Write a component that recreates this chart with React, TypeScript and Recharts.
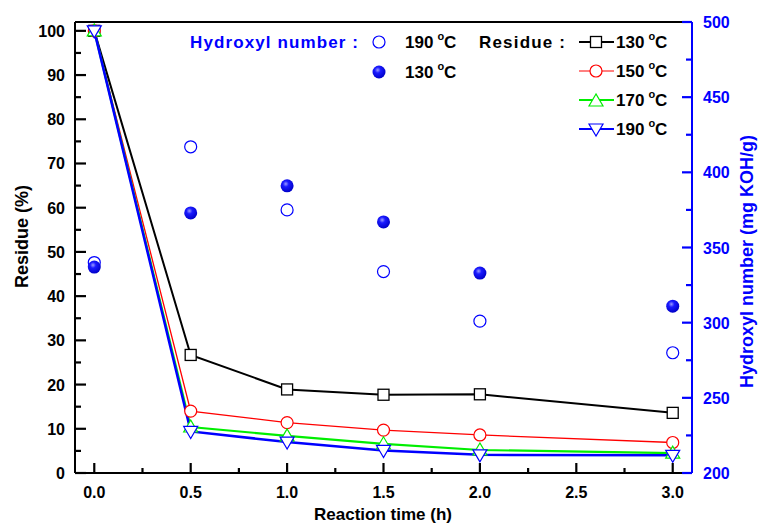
import {
  ComposedChart,
  Line,
  XAxis,
  YAxis,
  ReferenceLine,
  Legend,
  Label,
} from 'recharts';

const TIME = [0, 0.5, 1.0, 1.5, 2.0, 3.0];

const RES_130 = [100, 26.7, 18.9, 17.7, 17.8, 13.6];
const RES_150 = [100, 14.0, 11.4, 9.7, 8.6, 6.9];
const RES_170 = [100, 10.4, 8.4, 6.6, 5.2, 4.5];
const RES_190 = [100, 9.4, 7.0, 5.1, 4.1, 4.0];

const HYD_190 = [340, 417, 375, 334, 301, 280];
const HYD_130 = [337, 373, 391, 367, 333, 311];

const X_TICKS = [0, 0.25, 0.5, 0.75, 1, 1.25, 1.5, 1.75, 2, 2.25, 2.5, 2.75, 3];
const L_TICKS = [0, 5, 10, 15, 20, 25, 30, 35, 40, 45, 50, 55, 60, 65, 70, 75, 80, 85, 90, 95, 100];
const R_TICKS = [200, 225, 250, 275, 300, 325, 350, 375, 400, 425, 450, 475, 500];

const FONT = '"Liberation Sans", Arial, sans-serif';
const BLUE = '#0000ff';

const data = TIME.map((t, i) => ({
  t,
  r130: RES_130[i],
  r150: RES_150[i],
  r170: RES_170[i],
  r190: RES_190[i],
  h190: HYD_190[i],
  h130: HYD_130[i],
}));

// marker shapes
const square = (cx: number, cy: number, key?: any) => (
  <rect key={key} x={cx - 5.5} y={cy - 5.5} width={11} height={11} fill="#fff" stroke="#000" strokeWidth={1.3} />
);
const circle = (cx: number, cy: number, color: string, key?: any) => (
  <circle key={key} cx={cx} cy={cy} r={6} fill="#fff" stroke={color} strokeWidth={1.2} />
);
const triUp = (cx: number, cy: number, key?: any) => (
  <polygon key={key} points={`${cx},${cy - 7} ${cx - 7},${cy + 5} ${cx + 7},${cy + 5}`} fill="#fff" stroke="#00ee00" strokeWidth={1.2} />
);
const triDown = (cx: number, cy: number, key?: any) => (
  <polygon key={key} points={`${cx},${cy + 7} ${cx - 7},${cy - 5} ${cx + 7},${cy - 5}`} fill="#fff" stroke={BLUE} strokeWidth={1.2} />
);
const ball = (cx: number, cy: number, key?: any) => (
  <g key={key}>
    <defs>
      <radialGradient id="ballGrad" cx="40%" cy="35%" r="65%">
        <stop offset="0%" stopColor="#9a9aff" />
        <stop offset="35%" stopColor="#1a1aff" />
        <stop offset="100%" stopColor="#0000c8" />
      </radialGradient>
    </defs>
    <circle cx={cx} cy={cy} r={6.5} fill="url(#ballGrad)" />
  </g>
);

// inward ticks, long for labelled values
const XTick = (props: any) => {
  const { x, y, payload } = props;
  const v = payload.value;
  const major = Math.abs(v * 2 - Math.round(v * 2)) < 1e-6;
  return (
    <g>
      <line x1={x} x2={x} y1={y} y2={y - (major ? 10 : 5)} stroke="#000" strokeWidth={2.2} />
      {major && (
        <text x={x} y={y + 25} textAnchor="middle" fontFamily={FONT} fontWeight="bold" fontSize={16} fill="#000">
          {v.toFixed(1)}
        </text>
      )}
    </g>
  );
};

const LTick = (props: any) => {
  const { x, y, payload } = props;
  const v = payload.value;
  const major = v % 10 === 0;
  return (
    <g>
      <line x1={x} x2={x + (major ? 11 : 6)} y1={y} y2={y} stroke="#000" strokeWidth={2.2} />
      {major && (
        <text x={x - 10} y={y + 6} textAnchor="end" fontFamily={FONT} fontWeight="bold" fontSize={16} fill="#000">
          {v}
        </text>
      )}
    </g>
  );
};

const RTick = (props: any) => {
  const { x, y, payload } = props;
  const v = payload.value;
  const major = v % 50 === 0;
  return (
    <g>
      <line x1={x} x2={x - (major ? 10 : 6)} y1={y} y2={y} stroke={BLUE} strokeWidth={2.2} />
      {major && (
        <text x={x + 11} y={y + 6} textAnchor="start" fontFamily={FONT} fontWeight="bold" fontSize={16} fill={BLUE}>
          {v}
        </text>
      )}
    </g>
  );
};

const Deg = ({ x, y, label, color }: { x: number; y: number; label: string; color: string }) => (
  <text x={x} y={y} fontFamily={FONT} fontWeight="bold" fontSize={17} fill={color}>
    {label}
    <tspan dx={4} dy={-8} fontSize={11}>o</tspan>
    <tspan dy={8}>C</tspan>
  </text>
);

const legendRows = [
  { label: '130', y: 42, color: '#000', shape: (cx: number, cy: number) => square(cx, cy), w: 1.8 },
  { label: '150', y: 71, color: '#ff0000', shape: (cx: number, cy: number) => circle(cx, cy, '#ff0000'), w: 1.2 },
  { label: '170', y: 100, color: '#00ee00', shape: (cx: number, cy: number) => triUp(cx, cy + 1), w: 2 },
  { label: '190', y: 129, color: BLUE, shape: (cx: number, cy: number) => triDown(cx, cy), w: 2 },
];

const LegendBox = () => (
  <svg width={758} height={150} style={{ display: 'block' }}>
    <text x={190} y={48} fontFamily={FONT} fontWeight="bold" fontSize={17} fill={BLUE} textLength={168}>
      Hydroxyl number :
    </text>
    {circle(379, 42, BLUE)}
    <Deg x={405} y={48} label="190" color="#000" />
    {ball(379, 72)}
    <Deg x={405} y={78} label="130" color="#000" />
    <text x={479} y={48} fontFamily={FONT} fontWeight="bold" fontSize={17} fill="#000" textLength={86}>
      Residue :
    </text>
    {legendRows.map((r) => (
      <g key={r.label}>
        <line x1={579} x2={614} y1={r.y} y2={r.y} stroke={r.color} strokeWidth={r.w} />
        {r.shape(596, r.y)}
        <Deg x={616} y={r.y + 6} label={r.label} color="#000" />
      </g>
    ))}
  </svg>
);

export default function App() {
  return (
    <div style={{ position: 'absolute', left: 0, top: 0, width: 758, height: 525, background: '#fff' }}>
      <ComposedChart width={758} height={525} data={data} margin={{ top: 22, right: 0, bottom: 0, left: 0 }}>
        <XAxis
          dataKey="t"
          type="number"
          domain={[-0.1, 3.1]}
          ticks={X_TICKS}
          interval={0}
          tickSize={0}
          tickMargin={0}
          tick={<XTick />}
          height={52}
          axisLine={{ stroke: '#000', strokeWidth: 2 }}
          allowDataOverflow
        >
          <Label
            content={({ viewBox }: any) => (
              <text x={383} y={viewBox.y + 47} textAnchor="middle" fontFamily={FONT} fontWeight="bold" fontSize={17} fill="#000">
                Reaction time (h)
              </text>
            )}
          />
        </XAxis>
        <YAxis
          yAxisId="l"
          domain={[0, 102]}
          ticks={L_TICKS}
          interval={0}
          tickSize={0}
          tickMargin={0}
          tick={<LTick />}
          width={75}
          axisLine={{ stroke: '#000', strokeWidth: 2 }}
          allowDataOverflow
        >
          <Label
            content={({ viewBox }: any) => {
              const cx = 28;
              const cy = viewBox.y + viewBox.height / 2 - 11;
              return (
                <text x={cx} y={cy} transform={`rotate(-90 ${cx} ${cy})`} textAnchor="middle" fontFamily={FONT} fontWeight="bold" fontSize={18} fill="#000">
                  Residue (%)
                </text>
              );
            }}
          />
        </YAxis>
        <YAxis
          yAxisId="r"
          orientation="right"
          domain={[200, 500]}
          ticks={R_TICKS}
          interval={0}
          tickSize={0}
          tickMargin={0}
          tick={<RTick />}
          width={66}
          axisLine={{ stroke: BLUE, strokeWidth: 2 }}
          allowDataOverflow
        >
          <Label
            content={({ viewBox }: any) => {
              const cx = 753;
              const cy = viewBox.y + viewBox.height / 2 + 14;
              return (
                <text x={cx} y={cy} transform={`rotate(-90 ${cx} ${cy})`} textAnchor="middle" fontFamily={FONT} fontWeight="bold" fontSize={18} fill={BLUE}>
                  Hydroxyl number (mg KOH/g)
                </text>
              );
            }}
          />
        </YAxis>
        <ReferenceLine yAxisId="l" y={102} stroke="#000" strokeWidth={2} />
        <Legend
          layout="horizontal"
          verticalAlign="middle"
          align="center"
          content={() => <LegendBox />}
          wrapperStyle={{ position: 'absolute', left: 0, top: 0, width: 758, height: 150 }}
        />
        <Line yAxisId="r" dataKey="h190" stroke="none" isAnimationActive={false} dot={(p: any) => circle(p.cx, p.cy, BLUE, `h190-${p.index}`)} />
        <Line yAxisId="r" dataKey="h130" stroke="none" isAnimationActive={false} dot={(p: any) => ball(p.cx, p.cy, `h130-${p.index}`)} />
        <Line yAxisId="l" dataKey="r130" stroke="#000" strokeWidth={2} isAnimationActive={false} dot={(p: any) => square(p.cx, p.cy, `r130-${p.index}`)} />
        <Line yAxisId="l" dataKey="r150" stroke="#ff0000" strokeWidth={1.3} isAnimationActive={false} dot={(p: any) => circle(p.cx, p.cy, '#ff0000', `r150-${p.index}`)} />
        <Line yAxisId="l" dataKey="r170" stroke="#00ee00" strokeWidth={2.2} isAnimationActive={false} dot={(p: any) => triUp(p.cx, p.cy, `r170-${p.index}`)} />
        <Line yAxisId="l" dataKey="r190" stroke={BLUE} strokeWidth={2.5} isAnimationActive={false} dot={(p: any) => triDown(p.cx, p.cy, `r190-${p.index}`)} />
      </ComposedChart>
    </div>
  );
}
